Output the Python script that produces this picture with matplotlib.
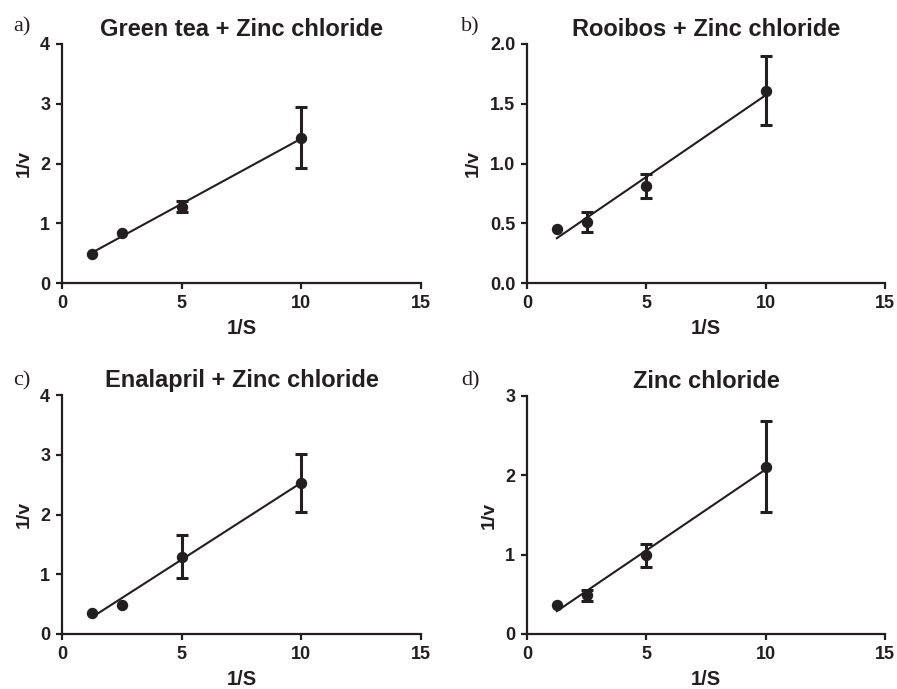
import numpy as np
import matplotlib
matplotlib.use("Agg")
import matplotlib.pyplot as plt

# ---- data ----
x_vals = [1.25, 2.5, 5, 10]

titles = ["Green tea + Zinc chloride", "Rooibos + Zinc chloride",
          "Enalapril + Zinc chloride", "Zinc chloride"]
panel_labels = ["a)", "b)", "c)", "d)"]

y_green = [0.49, 0.83, 1.28, 2.43]
e_green = [0.0, 0.0, 0.09, 0.51]

y_rooibos = [0.45, 0.51, 0.81, 1.61]
e_rooibos = [0.0, 0.085, 0.10, 0.29]

y_enalapril = [0.35, 0.49, 1.29, 2.53]
e_enalapril = [0.0, 0.0, 0.36, 0.485]

y_zinc = [0.37, 0.49, 0.99, 2.11]
e_zinc = [0.0, 0.07, 0.15, 0.57]

series_y = [y_green, y_rooibos, y_enalapril, y_zinc]
series_e = [e_green, e_rooibos, e_enalapril, e_zinc]

y_limits = [(0, 4), (0, 2.0), (0, 4), (0, 3)]
y_ticks = [[0, 1, 2, 3, 4], [0.0, 0.5, 1.0, 1.5, 2.0], [0, 1, 2, 3, 4], [0, 1, 2, 3]]
y_ticklabels = [["0", "1", "2", "3", "4"], ["0.0", "0.5", "1.0", "1.5", "2.0"],
                ["0", "1", "2", "3", "4"], ["0", "1", "2", "3"]]
x_ticks = [0, 5, 10, 15]
x_ticklabels = ["0", "5", "10", "15"]

# ---- layout ----
W, H = 897, 689
fig = plt.figure(figsize=(W / 100, H / 100), dpi=100)
col = "#231f20"
plt.rcParams["font.family"] = ["Liberation Sans", "DejaVu Sans"]

boxes = [  # left, top, right, bottom in px
    (62, 44, 421, 283),
    (527, 44, 885, 283),
    (62, 395, 421, 634),
    (527, 396, 885, 634),
]
label_pos = [(13, 31), (461, 31), (13, 385), (461, 385)]

for i in range(4):
    l, t, r, b = boxes[i]
    ax = fig.add_axes([l / W, 1 - b / H, (r - l) / W, (b - t) / H])
    x = np.array(x_vals)
    y = np.array(series_y[i])
    e = np.array(series_e[i])
    slope, intercept = np.polyfit(x, y, 1)
    xf = np.array([x.min(), x.max()])
    ax.plot(xf, slope * xf + intercept, color=col, lw=1.5, zorder=2)
    m = e > 0
    ax.errorbar(x[m], y[m], yerr=e[m], fmt="none", ecolor=col, elinewidth=2.2,
                capsize=4, capthick=2.2, zorder=3)
    ax.plot(x, y, "o", color=col, ms=7.2, zorder=4)

    ax.set_xlim(0, 15)
    ax.set_ylim(*y_limits[i])
    ax.set_xticks(x_ticks)
    ax.set_xticklabels(x_ticklabels)
    ax.set_yticks(y_ticks[i])
    ax.set_yticklabels(y_ticklabels[i])
    for s in ["top", "right"]:
        ax.spines[s].set_visible(False)
    for s in ["left", "bottom"]:
        ax.spines[s].set_linewidth(1.6)
        ax.spines[s].set_color(col)
    ax.tick_params(axis="both", direction="out", length=4.5, width=1.6, color=col,
                   labelsize=13, pad=4, labelcolor=col)
    for lab in ax.get_xticklabels() + ax.get_yticklabels():
        lab.set_fontweight("bold")
    ax.set_xlabel("1/S", fontsize=14.5, fontweight="bold", color=col, labelpad=5)
    ax.set_ylabel("1/v", fontsize=14, fontweight="bold", color=col, labelpad=5.5)
    ax.set_title(titles[i], fontsize=17, fontweight="bold", color=col, pad=6)
    fig.text(label_pos[i][0] / W, 1 - label_pos[i][1] / H, panel_labels[i],
             fontsize=16, family=["Liberation Serif", "DejaVu Serif"], color=col)

fig.savefig("out.png", dpi=100)
